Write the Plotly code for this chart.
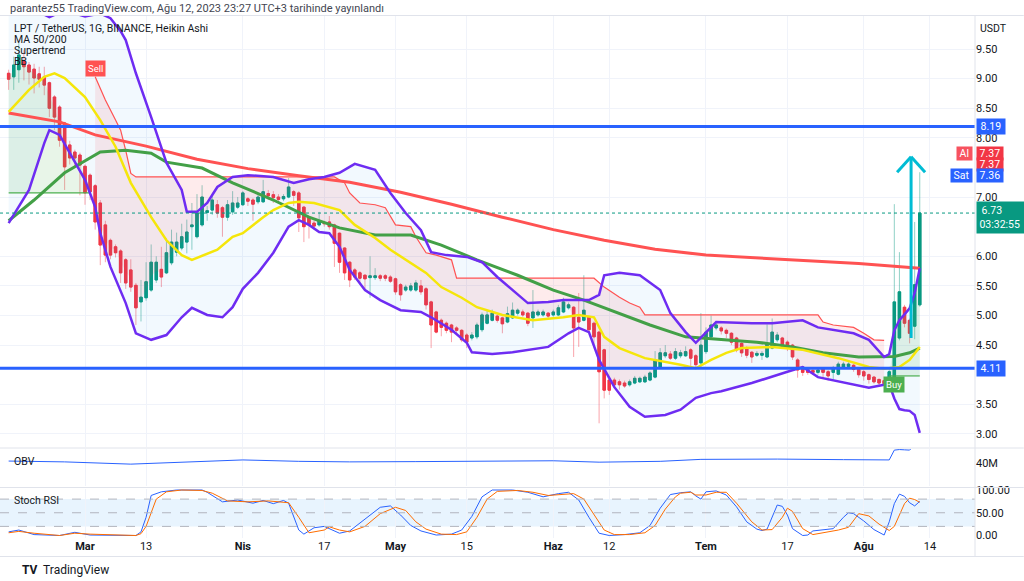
import pandas as pd
import plotly.graph_objects as go
from plotly.subplots import make_subplots

# LPT/USDT daily Heikin Ashi candles, 14 Feb - 12 Aug 2023
days = pd.date_range("2023-02-14", "2023-08-12", freq="D")

ha_open = [
    9.09, 9.03, 9.15, 9.29, 9.23, 9.16, 9.08, 9.03, 8.93, 8.69, 8.52, 8.25, 7.88, 7.76, 7.71,
    7.52, 7.37, 7.19, 6.90, 6.53, 6.27, 6.16, 6.09, 5.94, 5.77, 5.51, 5.23, 5.30, 5.43, 5.60, 5.78,
    5.72, 5.89, 6.07, 6.14, 6.24, 6.50, 6.33, 6.53, 6.74, 6.78, 6.87, 6.82, 6.66, 6.75, 6.83,
    6.87, 6.97, 6.95, 6.92, 6.92, 7.06, 7.04, 7.00, 6.97, 7.00, 7.09, 7.07, 6.83, 6.65, 6.56,
    6.53, 6.57, 6.58, 6.53, 6.39, 6.14, 5.90, 5.77, 5.72, 5.68, 5.64, 5.64, 5.67, 5.67, 5.65,
    5.62, 5.52, 5.43, 5.43, 5.43, 5.50, 5.45, 5.23, 5.06, 4.92, 4.87, 4.84, 4.79, 4.75, 4.67, 4.62, 4.64,
    4.76, 4.87, 4.92, 4.99, 4.96, 4.89, 4.96, 5.04, 5.06, 5.04, 4.96, 5.01, 5.01, 5.04,
    5.01, 5.01, 5.06, 5.13, 5.14, 4.97, 4.92, 4.97, 4.87, 4.72, 4.42, 3.91, 3.91, 3.88, 3.86,
    3.83, 3.86, 3.88, 3.88, 3.91, 3.96, 4.13, 4.32, 4.35, 4.28, 4.32, 4.32, 4.42, 4.32, 4.20,
    4.39, 4.64, 4.79, 4.79, 4.75, 4.70, 4.62, 4.53, 4.45, 4.38, 4.33, 4.33, 4.30, 4.45, 4.59, 4.62,
    4.55, 4.50, 4.25, 4.13, 4.09, 4.07, 4.04, 4.10, 4.05, 4.04, 4.01, 4.13, 4.14, 4.16, 4.09,
    4.05, 4.00, 3.96, 3.92, 3.90, 3.96, 3.95, 4.62, 5.14, 4.92, 4.82, 5.18,
]
ha_close = [
    8.99, 9.23, 9.40, 9.20, 9.11, 9.01, 8.99, 8.89, 8.50, 8.35, 7.96, 7.51, 7.66, 7.66, 7.54,
    7.07, 7.09, 6.58, 6.19, 6.02, 6.02, 6.06, 5.72, 5.55, 5.48, 5.13, 5.31, 5.57, 5.90, 5.90, 5.65,
    6.06, 6.24, 6.24, 6.33, 6.41, 6.53, 6.73, 7.00, 6.77, 6.95, 6.73, 6.66, 6.87, 6.90, 6.90,
    7.07, 6.93, 6.88, 7.00, 7.09, 7.02, 6.99, 6.96, 7.01, 7.17, 7.03, 6.65, 6.50, 6.53, 6.51,
    6.60, 6.55, 6.50, 6.22, 5.90, 5.72, 5.60, 5.65, 5.63, 5.62, 5.67, 5.67, 5.63, 5.63, 5.58,
    5.40, 5.35, 5.48, 5.50, 5.55, 5.40, 5.18, 4.84, 4.72, 4.80, 4.75, 4.72, 4.75, 4.59, 4.55, 4.67, 4.84,
    5.01, 5.01, 5.04, 4.92, 4.86, 5.03, 5.09, 5.09, 5.01, 4.87, 5.06, 5.06, 5.06, 4.99,
    5.06, 5.13, 5.23, 5.18, 4.79, 4.89, 5.09, 4.76, 4.64, 4.05, 3.74, 3.74, 3.83, 3.83, 3.81,
    3.88, 3.94, 3.94, 3.96, 4.03, 4.25, 4.37, 4.37, 4.28, 4.39, 4.37, 4.39, 4.28, 4.17, 4.50,
    4.72, 4.84, 4.84, 4.74, 4.70, 4.55, 4.42, 4.37, 4.33, 4.30, 4.36, 4.36, 4.53, 4.72, 4.67, 4.50,
    4.45, 4.30, 4.08, 4.04, 4.04, 4.04, 4.08, 4.04, 3.98, 4.11, 4.18, 4.18, 4.18, 4.09, 4.00,
    3.98, 3.92, 3.88, 3.86, 3.85, 4.05, 5.23, 5.40, 4.87, 4.70, 5.52, 6.73,
]
ha_high = [
    9.15, 9.37, 9.60, 9.48, 9.28, 9.25, 9.20, 9.20, 8.95, 8.72, 8.55, 8.27, 7.95, 7.80, 7.75,
    7.55, 7.40, 7.22, 6.95, 6.60, 6.30, 6.20, 6.12, 5.97, 5.95, 5.55, 5.60, 5.90, 6.20, 6.00, 6.16,
    6.30, 6.45, 6.40, 6.55, 6.62, 6.90, 7.05, 7.20, 6.85, 7.05, 6.95, 6.85, 6.95, 7.10, 7.00,
    7.10, 7.00, 6.98, 7.05, 7.29, 7.12, 7.10, 7.05, 7.05, 7.32, 7.12, 7.10, 6.85, 6.68, 6.60,
    6.75, 6.60, 6.68, 6.55, 6.40, 6.15, 5.92, 5.80, 5.75, 5.70, 6.00, 5.80, 5.70, 5.70, 5.68,
    5.64, 5.55, 5.52, 5.55, 5.60, 5.60, 5.48, 5.25, 5.08, 4.95, 4.90, 4.86, 4.82, 4.77, 4.70, 4.72, 4.88,
    5.05, 5.08, 5.10, 5.02, 4.98, 5.15, 5.22, 5.12, 5.10, 5.06, 5.43, 5.10, 5.10, 5.06,
    5.10, 5.18, 5.30, 5.22, 5.16, 5.38, 5.68, 5.00, 4.90, 4.74, 4.44, 3.93, 3.95, 3.92, 3.90,
    3.92, 3.98, 3.97, 4.00, 4.06, 4.40, 4.45, 4.50, 4.40, 4.45, 4.42, 4.48, 4.45, 4.35, 5.04,
    4.80, 5.00, 4.90, 4.82, 4.78, 4.72, 4.64, 4.55, 4.48, 4.40, 4.40, 4.40, 4.85, 4.95, 4.72, 4.64,
    4.58, 4.52, 4.28, 4.15, 4.12, 4.10, 4.12, 4.12, 4.08, 4.15, 4.22, 4.22, 4.21, 4.18, 4.12,
    4.08, 4.02, 3.98, 3.94, 3.92, 4.10, 6.88, 6.07, 5.18, 4.95, 6.58, 7.42,
]
ha_low = [
    8.81, 8.81, 8.93, 8.97, 8.90, 8.75, 8.85, 8.72, 8.35, 8.13, 7.85, 7.12, 7.55, 7.50, 7.03,
    6.87, 6.95, 6.45, 5.85, 5.90, 5.95, 5.98, 5.55, 5.45, 5.40, 4.84, 4.90, 5.25, 5.40, 5.55, 5.48,
    5.70, 5.85, 6.00, 6.10, 6.05, 6.11, 6.30, 6.50, 6.60, 6.70, 6.65, 6.33, 6.60, 6.70, 6.80,
    6.85, 6.85, 6.60, 6.88, 6.90, 6.95, 6.90, 6.92, 6.93, 6.98, 6.85, 6.41, 6.24, 6.30, 6.45,
    6.50, 6.50, 6.45, 5.82, 5.72, 5.60, 5.48, 5.60, 5.55, 5.45, 5.30, 5.60, 5.58, 5.58, 5.55,
    5.35, 5.25, 5.40, 5.40, 5.40, 5.35, 5.10, 4.45, 4.70, 4.65, 4.70, 4.55, 4.70, 4.55, 4.45, 4.58, 4.60,
    4.72, 4.85, 4.90, 4.88, 4.70, 4.87, 4.94, 5.00, 4.98, 4.82, 4.79, 4.98, 4.98, 4.95,
    4.98, 4.99, 5.04, 5.10, 4.30, 4.47, 4.90, 4.70, 4.50, 3.18, 3.60, 3.66, 3.78, 3.75, 3.78,
    3.80, 3.84, 3.86, 3.86, 3.89, 3.94, 4.10, 4.28, 4.25, 4.25, 4.28, 4.30, 4.15, 4.10, 4.12,
    4.35, 4.60, 4.75, 4.68, 4.62, 4.50, 4.38, 4.30, 4.28, 4.20, 4.30, 4.25, 4.28, 4.43, 4.55, 4.45,
    4.40, 4.25, 3.95, 3.98, 4.00, 4.00, 4.00, 3.95, 3.90, 3.92, 3.99, 4.10, 4.12, 4.05, 3.95,
    3.90, 3.85, 3.85, 3.82, 3.82, 3.94, 3.92, 4.58, 4.80, 4.53, 4.60, 5.15,
]

# moving averages
ma200_days = ["2/14", "2/24", "3/3", "3/13", "3/23", "4/2", "4/12", "4/22", "5/2", "5/12",
              "5/22", "6/1", "6/11", "6/21", "7/1", "7/11", "7/21", "7/31", "8/12"]
ma200 = [8.42, 8.27, 8.05, 7.86, 7.64, 7.48, 7.36, 7.25, 7.08, 6.88,
         6.66, 6.45, 6.27, 6.12, 6.02, 5.97, 5.92, 5.88, 5.80]

ma50_days = ["2/14", "2/19", "2/25", "3/4", "3/9", "3/14", "3/17", "3/24", "3/30", "4/7",
             "4/14", "4/20", "4/27", "5/4", "5/10", "5/17", "5/25", "6/1", "6/7", "6/14",
             "6/20", "6/27", "7/3", "7/11", "7/18", "7/24", "7/31", "8/7", "8/10", "8/12"]
ma50 = [6.60, 6.95, 7.41, 7.76, 7.79, 7.74, 7.59, 7.49, 7.24, 6.95,
        6.66, 6.48, 6.36, 6.36, 6.19, 5.94, 5.68, 5.43, 5.26, 5.04,
        4.84, 4.64, 4.60, 4.55, 4.47, 4.37, 4.30, 4.31, 4.37, 4.45]

# Bollinger bands
bb_mid_days = ["2/14", "2/18", "2/21", "2/23", "2/25", "3/1", "3/4", "3/7", "3/10", "3/14",
               "3/17", "3/20", "3/22", "3/27", "3/30", "4/1", "4/5", "4/7", "4/10", "4/12",
               "4/15", "4/20", "4/23", "4/27", "4/30", "5/3", "5/7", "5/10", "5/14", "5/17",
               "5/20", "5/22", "5/28", "6/3", "6/6", "6/9", "6/11", "6/14", "6/19", "6/26",
               "6/29", "7/2", "7/5", "7/8", "7/14", "7/20", "7/27", "8/2", "8/5", "8/8",
               "8/10", "8/12"]
bb_mid = [8.44, 8.81, 9.03, 9.09, 9.01, 8.69, 8.30, 7.85, 7.24, 6.66,
          6.27, 6.02, 5.94, 6.11, 6.33, 6.39, 6.66, 6.78, 6.90, 6.92,
          6.90, 6.78, 6.53, 6.31, 6.11, 5.94, 5.72, 5.48, 5.30, 5.14,
          5.06, 5.01, 4.92, 4.97, 5.01, 4.97, 4.64, 4.45, 4.28, 4.17,
          4.11, 4.25, 4.37, 4.45, 4.47, 4.42, 4.28, 4.13, 4.10, 4.13,
          4.25, 4.47]

bb_up_days = ["2/14", "2/17", "2/20", "2/22", "2/25", "3/1", "3/4", "3/6", "3/8", "3/9",
              "3/11", "3/14", "3/17", "3/20", "3/21", "3/23", "3/25", "3/27", "3/30", "4/2",
              "4/7", "4/11", "4/14", "4/17", "4/20", "4/22", "4/23", "4/27", "4/30", "5/3",
              "5/6", "5/8", "5/11", "5/15", "5/18", "5/21", "5/27", "5/31", "6/3", "6/8",
              "6/10", "6/11", "6/14", "6/18", "6/22", "6/24", "6/27", "6/29", "7/1", "7/3",
              "7/10", "7/14", "7/20", "7/23", "7/30", "8/2", "8/5", "8/6", "8/7", "8/8",
              "8/9", "8/10", "8/11", "8/12"]
bb_up = [10.9, 10.5, 10.12, 10.04, 10.15, 10.05, 10.10, 10.02, 9.80, 9.65,
         9.09, 8.35, 7.58, 7.12, 6.75, 6.75, 6.90, 7.17, 7.34, 7.37,
         7.34, 7.24, 7.30, 7.34, 7.41, 7.51, 7.56, 7.46, 7.07, 6.73,
         6.44, 6.07, 6.02, 5.99, 5.90, 5.65, 5.21, 5.23, 5.26, 5.26,
         5.35, 5.68, 5.72, 5.68, 5.43, 5.04, 4.72, 4.54, 4.72, 4.89,
         4.87, 4.87, 4.92, 4.80, 4.70, 4.59, 4.30, 4.35, 4.75, 4.92,
         5.02, 5.12, 5.38, 5.80]

bb_lo_days = ["2/14", "2/18", "2/21", "2/22", "2/24", "2/26", "3/1", "3/3", "3/4", "3/6",
              "3/9", "3/11", "3/14", "3/17", "3/20", "3/22", "3/25", "3/28", "3/30", "4/1",
              "4/4", "4/7", "4/10", "4/12", "4/14", "4/16", "4/18", "4/20", "4/22", "4/25",
              "4/28", "5/2", "5/6", "5/8", "5/12", "5/15", "5/16", "5/20", "5/24", "5/31",
              "6/4", "6/6", "6/8", "6/10", "6/13", "6/16", "6/19", "6/23", "6/26", "6/29",
              "7/2", "7/4", "7/10", "7/17", "7/20", "7/23", "7/30", "8/2", "8/5", "8/6",
              "8/7", "8/8", "8/9", "8/10", "8/11", "8/12"]
bb_lo = [6.56, 7.12, 7.91, 8.13, 8.05, 7.74, 7.29, 6.83, 6.39, 5.82,
         5.21, 4.70, 4.59, 4.67, 4.97, 5.13, 5.01, 4.97, 5.14, 5.45,
         5.72, 6.06, 6.50, 6.61, 6.53, 6.41, 6.39, 6.16, 5.77, 5.43,
         5.26, 5.09, 5.06, 4.97, 4.76, 4.54, 4.38, 4.35, 4.38, 4.47,
         4.70, 4.79, 4.72, 4.25, 3.79, 3.46, 3.29, 3.32, 3.41, 3.61,
         3.69, 3.72, 3.86, 4.05, 4.13, 3.96, 3.83, 3.78, 3.83, 3.84,
         3.60, 3.42, 3.40, 3.39, 3.32, 3.02]

# Supertrend
st_up1_days = ["2/14", "3/2"]
st_up1 = [7.07, 7.07]
st_dn_days = ["3/3", "3/5", "3/7", "3/8", "3/9", "3/10", "3/11", "4/19", "4/21", "4/22",
              "4/24", "4/27", "4/29", "5/1", "5/4", "5/5", "5/7", "5/9", "5/12", "5/13",
              "6/9", "6/11", "6/14", "6/16", "6/18", "6/19", "7/23", "7/24", "7/26", "7/30",
              "8/1", "8/3", "8/5"]
st_dn = [9.03, 8.64, 8.30, 8.13, 7.79, 7.40, 7.34, 7.34, 7.24, 7.07,
         6.90, 6.87, 6.82, 6.53, 6.50, 6.33, 6.06, 6.02, 5.94, 5.63,
         5.63, 5.48, 5.31, 5.21, 5.14, 5.01, 5.01, 4.89, 4.84, 4.80,
         4.70, 4.59, 4.58]
st_up2_days = ["8/6", "8/12"]
st_up2 = [3.98, 3.98]

# OBV (millions)
obv_days = ["2/14", "2/25", "3/10", "3/20", "4/1", "4/12", "4/22", "5/5", "5/20", "6/1",
            "6/10", "6/22", "6/30", "7/15", "7/28", "8/6", "8/7", "8/8", "8/9", "8/10",
            "8/11", "8/12"]
obv = [40.7, 40.4, 39.6, 40.4, 41.1, 40.6, 40.4, 40.5, 40.6, 40.8,
       40.3, 40.6, 41.3, 41.4, 41.2, 41.1, 44.6, 44.8, 44.7, 44.6,
       46.5, 48.0]

# Stoch RSI
k_days = ["2/14", "2/16", "2/19", "2/24", "2/27", "3/2", "3/11", "3/12", "3/13", "3/14",
          "3/16", "3/19", "3/24", "3/25", "3/28", "3/31", "4/3", "4/5", "4/7", "4/9",
          "4/10", "4/12", "4/13", "4/15", "4/17", "4/20", "4/22", "4/25", "4/28", "4/30",
          "5/2", "5/4", "5/6", "5/9", "5/12", "5/14", "5/16", "5/18", "5/20", "5/24",
          "5/27", "5/30", "6/2", "6/4", "6/6", "6/8", "6/10", "6/12", "6/15", "6/18",
          "6/20", "6/22", "6/24", "6/26", "6/28", "6/29", "6/30", "7/1", "7/3", "7/5",
          "7/7", "7/9", "7/11", "7/12", "7/13", "7/15", "7/16", "7/17", "7/18", "7/20",
          "7/21", "7/22", "7/25", "7/26", "7/28", "7/29", "7/30", "8/1", "8/3", "8/5",
          "8/6", "8/7", "8/8", "8/9", "8/10", "8/11", "8/12"]
stoch_k = [8, 12, 2, 0, 7, 1, 0, 8, 40, 88,
           96, 100, 100, 95, 74, 78, 71, 77, 70, 77,
           71, 12, 3, 17, 20, 5, 10, 35, 62, 65,
           45, 22, 10, 1, 3, 12, 42, 85, 100, 100,
           95, 85, 92, 95, 78, 40, 5, 0, 2, 6,
           22, 60, 90, 94, 96, 87, 80, 96, 98, 89,
           63, 30, 14, 11, 14, 67, 64, 45, 15, 0,
           1, 10, 13, 15, 40, 50, 48, 32, 13, 1,
           30, 70, 91, 86, 72, 65, 75]
d_days = ["2/14", "2/16", "2/19", "2/24", "2/27", "3/2", "3/11", "3/12", "3/13", "3/14",
          "3/15", "3/17", "3/20", "3/24", "3/26", "3/29", "4/2", "4/6", "4/9", "4/10",
          "4/12", "4/14", "4/17", "4/18", "4/20", "4/22", "4/25", "4/28", "5/1", "5/3",
          "5/5", "5/7", "5/10", "5/13", "5/15", "5/17", "5/19", "5/21", "5/25", "5/28",
          "5/31", "6/3", "6/5", "6/7", "6/9", "6/11", "6/13", "6/16", "6/19", "6/21",
          "6/23", "6/25", "6/26", "6/28", "6/29", "7/1", "7/3", "7/5", "7/7", "7/10",
          "7/12", "7/14", "7/16", "7/17", "7/18", "7/20", "7/22", "7/24", "7/27", "7/29",
          "7/31", "8/2", "8/4", "8/6", "8/7", "8/8", "8/9", "8/10", "8/11", "8/12"]
stoch_d = [6, 9, 5, 0, 5, 3, 0, 4, 20, 50,
           80, 96, 100, 99, 93, 76, 74, 76, 74, 72,
           40, 6, 12, 19, 12, 8, 20, 48, 62, 55,
           30, 14, 3, 2, 8, 40, 80, 97, 99, 95,
           88, 90, 92, 80, 45, 12, 2, 2, 6, 22,
           58, 85, 93, 95, 89, 89, 95, 95, 71, 30,
           12, 13, 40, 60, 53, 15, 2, 6, 12, 18,
           48, 43, 25, 11, 20, 45, 70, 82, 79, 73]

# drawings on the chart
h_levels = [8.19, 4.11]
last_price = 6.73
arrow_day = pd.Timestamp("2023-08-10 07:00")
arrow_low, arrow_tip, arrow_wing = 4.62, 7.68, 7.42
ticks = ["2023-03-01", "2023-03-13", "2023-04-01", "2023-04-17", "2023-05-01", "2023-05-15",
         "2023-06-01", "2023-06-12", "2023-07-01", "2023-07-17", "2023-08-01", "2023-08-14"]
tick_text = ["<b>Mar</b>", "13", "<b>Nis</b>", "17", "<b>May</b>", "15",
             "<b>Haz</b>", "12", "<b>Tem</b>", "17", "<b>Ağu</b>", "14"]
price_ticks = [3.0, 3.5, 4.5, 5.0, 5.5, 6.0, 7.0, 8.0, 8.5, 9.0, 9.5]


def dt(lst):
    return pd.to_datetime(["2023/" + s for s in lst])


mids = [(o + c) / 2 for o, c in zip(ha_open, ha_close)]
body_hi = [max(o, c) for o, c in zip(ha_open, ha_close)]
body_lo = [min(o, c) for o, c in zip(ha_open, ha_close)]


def idx(s):
    return list(days).index(pd.Timestamp("2023/" + s))


fig = make_subplots(rows=3, cols=1, shared_xaxes=True, vertical_spacing=0)

# bollinger fill
fig.add_trace(go.Scatter(x=dt(bb_up_days), y=bb_up, mode="lines", line=dict(width=0),
                         hoverinfo="skip"), row=1, col=1)
fig.add_trace(go.Scatter(x=dt(bb_lo_days), y=bb_lo, mode="lines", line=dict(width=0),
                         fill="tonexty", fillcolor="rgba(33,150,243,0.06)", hoverinfo="skip"),
              row=1, col=1)

# supertrend fills
for sd, sv, a, b, col in [(st_up1_days, st_up1, "2/14", "3/2", "rgba(76,175,80,0.13)"),
                          (st_dn_days, st_dn, "3/3", "8/5", "rgba(242,54,69,0.10)"),
                          (st_up2_days, st_up2, "8/6", "8/12", "rgba(76,175,80,0.13)")]:
    fig.add_trace(go.Scatter(x=dt(sd), y=sv, mode="lines", line=dict(width=0),
                             hoverinfo="skip"), row=1, col=1)
    i0, i1 = idx(a), idx(b) + 1
    fig.add_trace(go.Scatter(x=days[i0:i1], y=mids[i0:i1], mode="lines", line=dict(width=0),
                             fill="tonexty", fillcolor=col, hoverinfo="skip"), row=1, col=1)

# candles: pale wicks, solid bodies
fig.add_trace(go.Candlestick(
    x=days, open=ha_open, high=ha_high, low=ha_low, close=ha_close, whiskerwidth=0,
    increasing=dict(line=dict(color="rgba(8,153,129,0.45)", width=1), fillcolor="#089981"),
    decreasing=dict(line=dict(color="rgba(242,54,69,0.45)", width=1), fillcolor="#f23645"),
    hoverinfo="skip"), row=1, col=1)
fig.add_trace(go.Candlestick(
    x=days, open=ha_open, high=body_hi, low=body_lo, close=ha_close, whiskerwidth=0,
    increasing=dict(line=dict(color="#089981", width=1), fillcolor="#089981"),
    decreasing=dict(line=dict(color="#f23645", width=1), fillcolor="#f23645"),
    hoverinfo="skip"), row=1, col=1)

# indicator lines
lines = [
    (st_up1_days, st_up1, "#4caf50", 1.2),
    (st_dn_days, st_dn, "#ff5252", 1.2),
    (st_up2_days, st_up2, "#4caf50", 1.2),
    (ma200_days, ma200, "#ff5252", 3),
    (ma50_days, ma50, "#43a047", 3),
    (bb_mid_days, bb_mid, "#f5e60a", 2.5),
    (bb_up_days, bb_up, "#6e2cf2", 2.5),
    (bb_lo_days, bb_lo, "#6e2cf2", 2.5),
]
for ld, lv, c, w in lines:
    fig.add_trace(go.Scatter(x=dt(ld), y=lv, mode="lines", line=dict(color=c, width=w),
                             hoverinfo="skip"), row=1, col=1)

# OBV
fig.add_trace(go.Scatter(x=dt(obv_days), y=[v * 1e6 for v in obv], mode="lines",
                         line=dict(color="#2962ff", width=1)), row=2, col=1)

# Stoch RSI
fig.add_trace(go.Scatter(x=dt(k_days), y=stoch_k, mode="lines",
                         line=dict(color="#2962ff", width=1)), row=3, col=1)
fig.add_trace(go.Scatter(x=dt(d_days), y=stoch_d, mode="lines",
                         line=dict(color="#ff6d00", width=1)), row=3, col=1)


# layout: pixel rows -> paper fractions (plot area 15..557 px)
def py(px):
    return (557 - px) / 542


grid = "#f0f3fa"
fig.update_layout(
    width=1024, height=581, margin=dict(l=0, r=49, t=15, b=24),
    paper_bgcolor="white", plot_bgcolor="white", showlegend=False,
    font=dict(family="Roboto, Arial, sans-serif", size=11, color="#131722"),
    yaxis=dict(domain=[py(447), 1], side="right", range=[2.78, 10.074],
               tickvals=price_ticks, tickformat=".2f", gridcolor=grid,
               zeroline=False, ticks=""),
    yaxis2=dict(domain=[py(486), py(449)], side="right", range=[31.8e6, 45.0e6],
                tickvals=[40e6], ticktext=["40M"], showgrid=False, zeroline=False),
    yaxis3=dict(domain=[py(538), py(489)], side="right", range=[-5.5, 102.2],
                tickvals=[0, 50, 100], ticktext=["0.00", "50.00", "100.00"],
                showgrid=False, zeroline=False),
)
x_range = [pd.Timestamp("2023-02-12 07:12"), pd.Timestamp("2023-08-22 20:24")]
fig.update_xaxes(range=x_range, tickvals=pd.to_datetime(ticks), ticktext=tick_text,
                 showgrid=True, gridcolor=grid, ticks="", rangeslider_visible=False,
                 zeroline=False)
fig.update_xaxes(tickfont=dict(size=11, color="#131722"), row=3, col=1)

shapes = []
for lv in h_levels:
    shapes.append(dict(type="line", xref="paper", yref="y", x0=0, x1=1, y0=lv, y1=lv,
                       line=dict(color="#2962ff", width=3)))
shapes.append(dict(type="line", xref="paper", yref="y", x0=0, x1=1, y0=last_price,
                   y1=last_price, line=dict(color="#089981", width=1, dash="dot")))
wing = pd.Timedelta(days=2.75)
for x0, y0, x1, y1 in [(arrow_day, arrow_low, arrow_day, arrow_tip),
                       (arrow_day - wing, arrow_wing, arrow_day, arrow_tip),
                       (arrow_day + wing, arrow_wing, arrow_day, arrow_tip)]:
    shapes.append(dict(type="line", xref="x", yref="y", x0=x0, y0=y0, x1=x1, y1=y1,
                       line=dict(color="#00bcd4", width=3)))
shapes.append(dict(type="rect", xref="paper", yref="y3", x0=0, x1=1, y0=20, y1=80,
                   fillcolor="rgba(33,150,243,0.1)", line=dict(width=0), layer="below"))
for lv in [80, 50, 20]:
    shapes.append(dict(type="line", xref="paper", yref="y3", x0=0, x1=1, y0=lv, y1=lv,
                       line=dict(color="#b2b5be", width=1, dash="dash")))
for p in [448, 487.5, 15.5, 556.5]:
    shapes.append(dict(type="line", xref="paper", yref="paper", x0=0, x1=1.05,
                       y0=py(p), y1=py(p), line=dict(color="#e0e3eb", width=1)))
shapes.append(dict(type="line", xref="paper", yref="paper", x0=1, x1=1, y0=0, y1=1,
                   line=dict(color="#e0e3eb", width=1)))
fig.update_layout(shapes=shapes)

ann = []


def text(x, y, s, size=11, color="#131722", xanchor="left"):
    ann.append(dict(xref="paper", yref="paper", x=x / 975, y=py(y), text=s, showarrow=False,
                    xanchor=xanchor, yanchor="middle", font=dict(size=size, color=color)))


text(8, 9, "parantez55 TradingView.com, Ağu 12, 2023 23:27 UTC+3 tarihinde yayınlandı",
     size=11, color="#434651")
text(12, 28, "LPT / TetherUS, 1G, BINANCE, Heikin Ashi", size=10.5)
text(12, 39.5, "MA 50/200", size=10.5)
text(12, 50.5, "Supertrend", size=10.5)
text(12, 61.5, "BB", size=10.5)
text(993, 28, "USDT", size=10.5, xanchor="center")
text(12, 461, "OBV", size=10.5)
text(12, 500, "Stoch RSI", size=10.5)
text(20, 570, "<b>TV</b>  TradingView", size=12, color="#131722")

sp = "\u00a0"


def tag(y, s, bg, side="axis", pad=1):
    ann.append(dict(xref="paper", yref="y", x=1, y=y, text=sp + s + sp, showarrow=False,
                    xanchor="left" if side == "axis" else "right",
                    xshift=1 if side == "axis" else -2, yanchor="middle",
                    bgcolor=bg, borderpad=pad, font=dict(size=10.5, color="white")))


tag(8.19, "8.19", "#2962ff")
tag(4.11, "4.11", "#2962ff")
tag(7.74, "7.37", "#f23645", pad=0)
tag(7.74, "Al", "#f7525f", side="in", pad=0)
tag(7.55, "7.37", "#f23645", pad=0)
tag(7.36, "7.36", "#2962ff", pad=0)
tag(7.36, "Sat", "#2962ff", side="in", pad=0)
tag(6.65, "6.73" + sp * 8 + "<br>03:32:55", "#089981", pad=2)

ann.append(dict(xref="x", yref="y", x=pd.Timestamp("2023-03-03"), y=9.17, text="Sell",
                showarrow=False, bgcolor="#ff5252", borderpad=2,
                font=dict(size=9.5, color="white")))
ann.append(dict(xref="x", yref="y", x=pd.Timestamp("2023-08-07"), y=3.83, text="Buy",
                showarrow=False, bgcolor="#4caf50", borderpad=2,
                font=dict(size=9.5, color="white")))
fig.update_layout(annotations=ann)

# drop the default 8px page margin so the figure sits at the window origin
fig.write_html("out.html", config={"displayModeBar": False},
               post_script="document.body.style.margin='0';")
